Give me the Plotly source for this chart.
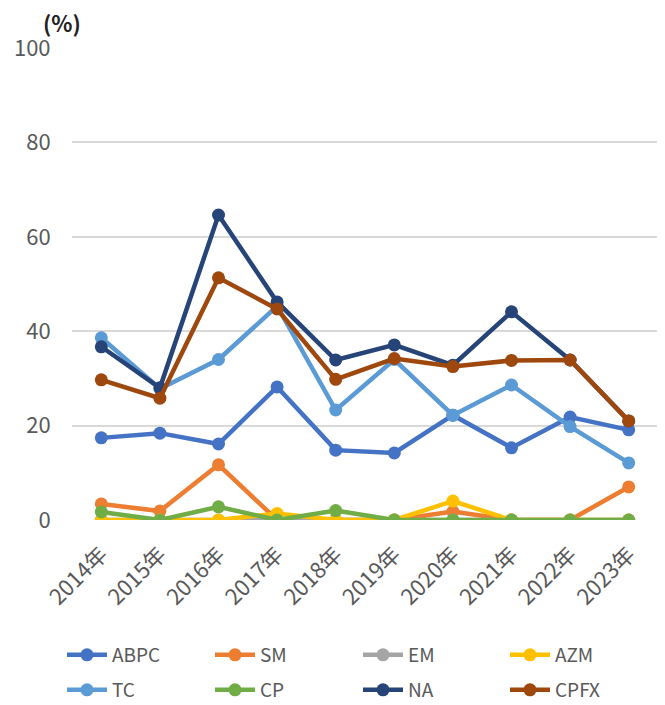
import plotly.graph_objects as go

years = ["2014年", "2015年", "2016年", "2017年", "2018年", "2019年", "2020年", "2021年", "2022年", "2023年"]

ABPC = [17.4, 18.4, 16.1, 28.2, 14.8, 14.2, 22.2, 15.3, 21.8, 19.1]
SM = [3.4, 1.9, 11.7, 0, 0, 0, 1.8, 0, 0, 7.0]
EM = [0, 0, 0, 0, 0, 0, 0, 0, 0, 0]
AZM = [0, 0, 0, 1.4, 0, 0, 4.0, 0, 0, 0]
TC = [38.6, 27.8, 34.0, 45.3, 23.3, 34.0, 22.2, 28.6, 19.8, 12.1]
CP = [1.7, 0, 2.8, 0, 2.0, 0, 0, 0, 0, 0]
NA = [36.7, 28.0, 64.6, 46.2, 33.9, 37.1, 32.8, 44.1, 33.9, 21.0]
CPFX = [29.7, 25.8, 51.3, 44.7, 29.8, 34.2, 32.5, 33.8, 33.9, 21.0]

names = ["ABPC", "SM", "EM", "AZM", "TC", "CP", "NA", "CPFX"]
values = [ABPC, SM, EM, AZM, TC, CP, NA, CPFX]
colors = ["#4472C4", "#ED7D31", "#A5A5A5", "#FFC000", "#5B9BD5", "#70AD47", "#264478", "#9E480E"]

font_family = "Noto Sans CJK JP, Noto Sans, sans-serif"
text_color = "#595959"

W, H = 657, 697  # page adds an 8px body margin
col_x = [54, 202, 350, 497]
row_y = [647, 682]

fig = go.Figure()
legends = {}
for i, (name, vals, color) in enumerate(zip(names, values, colors)):
    key = "legend" if i == 0 else f"legend{i + 1}"
    fig.add_trace(go.Scatter(
        x=list(range(len(years))), y=vals, name=name, mode="lines+markers",
        line=dict(color=color, width=4.5),
        marker=dict(color=color, size=13),
        legend=key,
    ))
    legends[key] = dict(
        orientation="h", xref="container", yref="container",
        x=col_x[i % 4] / W, y=1 - row_y[i // 4] / H,
        xanchor="left", yanchor="middle",
        font=dict(size=19, color=text_color, family=font_family),
        itemwidth=40, bgcolor="rgba(0,0,0,0)",
    )

fig.update_layout(
    width=W, height=H,
    margin=dict(l=64, r=7, t=40, b=185, autoexpand=False),
    plot_bgcolor="white", paper_bgcolor="white",
    font=dict(family=font_family, size=18, color=text_color),
    showlegend=True,
    xaxis=dict(
        range=[-0.5, 9.5], tickmode="array", tickvals=list(range(len(years))),
        ticktext=years, tickangle=-45, showgrid=False, zeroline=False,
        showline=False, ticks="outside", ticklen=12, tickcolor="rgba(0,0,0,0)",
        automargin=False, tickfont=dict(size=22, color=text_color),
    ),
    yaxis=dict(
        range=[0, 100], tickvals=[0, 20, 40, 60, 80, 100], showgrid=True,
        gridcolor="#D9D9D9", gridwidth=1.5, zeroline=False, showline=False,
        ticks="outside", ticklen=16, tickcolor="rgba(0,0,0,0)", automargin=False,
        tickfont=dict(size=22, color=text_color),
    ),
    annotations=[dict(
        text="<b>(%)</b>", x=(62 - 72) / 586, y=(520 - 22) / 472,
        xref="paper", yref="paper", showarrow=False,
        xanchor="center", yanchor="middle",
        font=dict(size=22, color="#222222", family=font_family),
    )],
)
fig.update_layout(**legends)
fig.write_html("out.html")
